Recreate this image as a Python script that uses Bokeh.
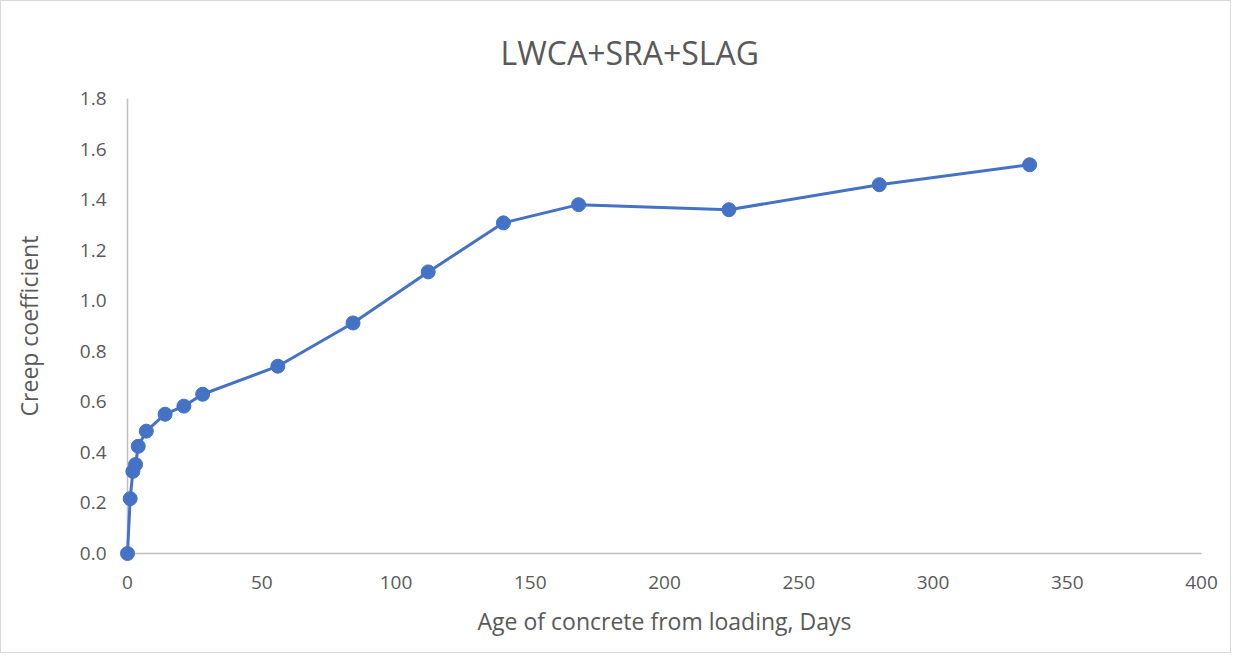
from bokeh.plotting import figure
from bokeh.embed import file_html
from bokeh.resources import INLINE
from bokeh.models import Range1d, FixedTicker, NumeralTickFormatter

days = [0, 1, 2, 3, 4, 7, 14, 21, 28, 56, 84, 112, 140, 168, 224, 280, 336]
creep = [0.0, 0.217, 0.325, 0.352, 0.424, 0.484, 0.551, 0.583, 0.630, 0.741, 0.912,
         1.114, 1.308, 1.380, 1.360, 1.459, 1.538]
x_ticks = [0, 50, 100, 150, 200, 250, 300, 350, 400]
y_ticks = [0.0, 0.2, 0.4, 0.6, 0.8, 1.0, 1.2, 1.4, 1.6, 1.8]
title_text = "LWCA+SRA+SLAG"

FONT = "Open Sans"
GREY = "#595959"
BLUE = "#4472C4"

p = figure(width=1231, height=653, output_backend="svg", toolbar_location=None,
           x_range=Range1d(0, 400), y_range=Range1d(0, 1.8),
           min_border_left=126, min_border_right=31, min_border_top=97, min_border_bottom=101)

p.title.text = title_text
p.title.align = "left"
p.title.offset = 373
p.title.text_font = FONT
p.title.text_font_size = "32px"
p.title.text_font_style = "normal"
p.title.text_color = GREY
p.title.standoff = 50

p.line(days, creep, line_color=BLUE, line_width=3, level="overlay")
p.scatter(days, creep, size=14, fill_color=BLUE, line_color=BLUE, level="overlay")

p.xgrid.visible = False
p.ygrid.visible = False
p.outline_line_color = None

for ax in (p.xaxis, p.yaxis):
    ax.axis_line_color = "#BFBFBF"
    ax.axis_line_width = 1.5
    ax.major_tick_line_color = None
    ax.minor_tick_line_color = None
    ax.major_label_text_font = FONT
    ax.major_label_text_font_size = "19px"
    ax.major_label_text_color = GREY
    ax.axis_label_text_font = FONT
    ax.axis_label_text_font_size = "23px"
    ax.axis_label_text_font_style = "normal"
    ax.axis_label_text_color = GREY

p.xaxis.ticker = FixedTicker(ticks=x_ticks)
p.yaxis.ticker = FixedTicker(ticks=y_ticks)
p.yaxis.formatter = NumeralTickFormatter(format="0.0")
p.xaxis.axis_label = "Age of concrete from loading, Days"
p.yaxis.axis_label = "Creep coefficient"
p.xaxis.major_label_standoff = 16
p.yaxis.major_label_standoff = 15
p.xaxis.axis_label_standoff = 13
p.yaxis.axis_label_standoff = 32
p.styles = {"border": "1px solid #D9D9D9"}

open("out.html", "w").write(file_html(p, INLINE))
